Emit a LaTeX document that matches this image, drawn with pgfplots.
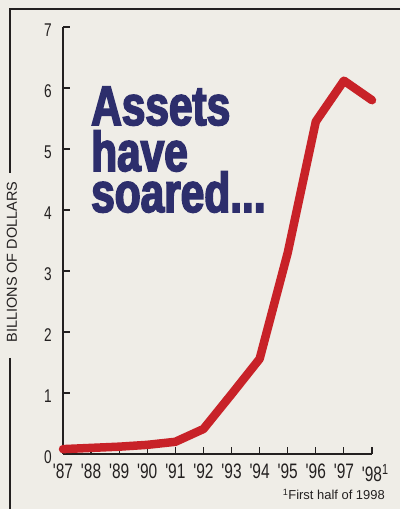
\documentclass[border=0pt]{standalone}
\usepackage{pgfplots}
\pgfplotsset{compat=1.18}
\usepackage{fontspec}
\setmainfont{Liberation Sans}
\newfontfamily\condfont[FakeStretch=0.74]{Liberation Sans}
\newfontfamily\titlefont[FakeStretch=0.76,FakeBold=3]{Liberation Sans}
\definecolor{navy}{RGB}{45,46,108}
\definecolor{chartred}{RGB}{200,34,40}
\definecolor{paper}{RGB}{239,237,231}
\definecolor{ink}{RGB}{35,32,32}
\begin{document}
\begin{tikzpicture}[x=1bp,y=1bp]
\fill[paper] (0,0) rectangle (400,509);
\useasboundingbox (0,0) rectangle (400,509);
% frame
\draw[ink, line width=2bp] (400,500) -- (10,500) -- (10,336);
\draw[ink, line width=2bp] (10,151) -- (10,0);
\node[rotate=90, inner sep=0pt, font=\fontsize{14.5}{14.5}\selectfont, text=ink] at (12,247) {BILLIONS OF DOLLARS};
\begin{axis}[
  at={(63bp,55bp)}, anchor=south west,
  scale only axis, width=309bp, height=427bp,
  xmin=1987, xmax=1998, ymin=0, ymax=7,
  axis x line=bottom, axis y line=left,
  axis line style={-, ink, line width=1.3bp},
  tick style={ink, line width=1.2bp},
  tick align=inside, major tick length=7bp,
  xtick={1987,...,1998},
  xticklabels={{'87},{'88},{'89},{'90},{'91},{'92},{'93},{'94},{'95},{'96},{'97},{'98\rlap{\textsuperscript{1}}}},
  ytick={0,...,7},
  yticklabels={0,1,2,3,4,5,6,7},
  xticklabel style={font=\condfont\fontsize{21}{21}\selectfont, text=ink, anchor=north, inner sep=0pt, yshift=-10bp},
  yticklabel style={font=\condfont\fontsize{18.5}{18.5}\selectfont, text=ink, anchor=east, inner sep=0pt, xshift=-11bp, yshift=-3bp},
  /pgf/number format/assume math mode=true,
  clip=false,
]
\addplot[chartred, line width=8.5bp, line cap=round, line join=round] coordinates {
(1987,0.08) (1988,0.10) (1989,0.12) (1990,0.15) (1991,0.20) (1992,0.41)
(1993,0.98) (1994,1.56) (1995,3.30) (1996,5.45) (1997,6.12) (1998,5.80)
};
\end{axis}
\node[anchor=base west, inner sep=0pt, text=navy, font=\titlefont\bfseries\fontsize{56}{56}\selectfont] at (91,384)
  {\vtop{\baselineskip=0pt\lineskip=0pt\lineskiplimit=-\maxdimen
   \hbox{Assets}\vskip46bp\hbox{have}\vskip41bp\hbox{soared...}}};
\node[anchor=base east, inner sep=0pt, text=ink, font=\fontsize{13}{13}\selectfont] at (385,9) {\textsuperscript{1}First half of 1998};
\end{tikzpicture}
\end{document}
